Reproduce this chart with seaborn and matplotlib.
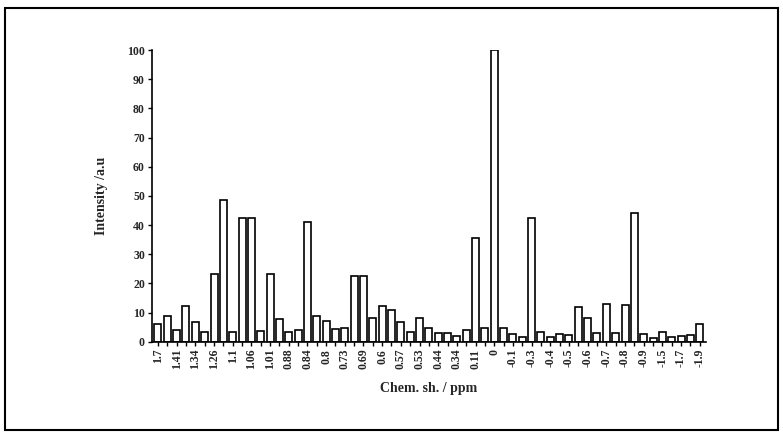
import matplotlib
matplotlib.use("Agg")
import matplotlib.pyplot as plt
from matplotlib.patches import Rectangle
import seaborn as sns
import pandas as pd
import numpy as np

# Chemical shift labels (shown under every other bar)
shift_labels = ["1.7", "1.41", "1.34", "1.26", "1.1", "1.06", "1.01", "0.88", "0.84", "0.8",
                "0.73", "0.69", "0.6", "0.57", "0.53", "0.44", "0.34", "0.11", "0", "-0.1",
                "-0.3", "-0.4", "-0.5", "-0.6", "-0.7", "-0.8", "-0.9", "-1.5", "-1.7", "-1.9"]

# Intensities of all bars, left to right
intensity = [6.0, 9.0, 4.1, 12.4, 6.7, 3.2, 23.4, 48.6, 3.2, 42.4,
             42.4, 3.8, 23.4, 7.9, 3.5, 4.1, 41.2, 9.0, 7.3, 4.5,
             4.7, 22.4, 22.4, 8.0, 12.4, 11.0, 6.7, 3.5, 8.0, 4.6,
             2.9, 3.1, 2.0, 4.0, 35.7, 4.6, 100.0, 4.7, 2.8, 1.8,
             42.6, 3.2, 1.7, 2.6, 2.3, 12.0, 8.0, 3.1, 12.8, 2.9,
             12.6, 44.0, 2.6, 1.2, 3.4, 1.7, 2.1, 2.3, 6.0]

sns.set_theme(style="ticks")
plt.rcParams["font.family"] = ["Liberation Serif", "DejaVu Serif"]

df = pd.DataFrame({"bar": np.arange(len(intensity)), "intensity": intensity})

fig = plt.figure(figsize=(7.83, 4.36), dpi=100)
ax = fig.add_axes([0.194, 0.216, 0.708, 0.669])

sns.barplot(data=df, x="bar", y="intensity", color="white", edgecolor="black",
            linewidth=1.2, width=0.75, saturation=1, ax=ax)

ticks = np.arange(len(intensity))
labels = []
for i in ticks:
    labels.append(shift_labels[i // 2] if i % 2 == 0 else "")
ax.set_xticks(ticks)
ax.set_xticklabels(labels, rotation=90, fontsize=8.5, fontweight="bold")
ax.set_xlim(-0.65, len(intensity) - 0.3)

ax.set_ylim(0, 100)
ax.set_yticks(np.arange(0, 101, 10))
ax.set_yticklabels([str(v) for v in range(0, 101, 10)], fontsize=8.5, fontweight="bold")

ax.tick_params(axis="both", direction="out", length=3, width=1, color="black", pad=2)
for s in ["top", "right"]:
    ax.spines[s].set_visible(False)
for s in ["left", "bottom"]:
    ax.spines[s].set_linewidth(1.2)
    ax.spines[s].set_color("black")

ax.set_xlabel("Chem. sh. / ppm", fontsize=10, fontweight="bold", labelpad=9)
ax.set_ylabel("Intensity /a.u", fontsize=10, fontweight="bold", labelpad=14)

fig.patches.append(Rectangle((0.0064, 0.0138), 0.987, 0.968, transform=fig.transFigure,
                             fill=False, edgecolor="black", linewidth=1.5))

fig.savefig("out.png", dpi=100)
